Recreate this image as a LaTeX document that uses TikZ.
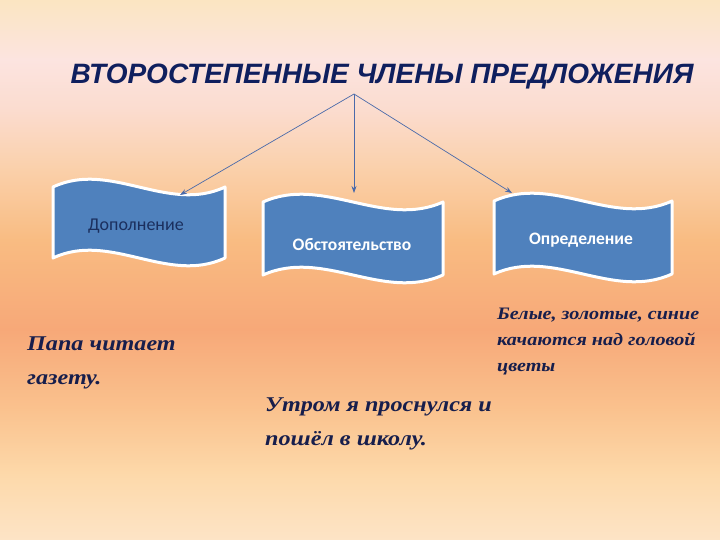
\documentclass[tikz,border=0pt]{standalone}
\usepackage{fontspec}
\setmainfont{Liberation Serif}
\setsansfont{Liberation Sans}
\newfontfamily\flagfont{Carlito}
\newfontfamily\examplefont{Liberation Serif}[FakeStretch=1.15]
\usetikzlibrary{arrows.meta}
\definecolor{navy}{HTML}{0F1F5E}
\definecolor{inkblue}{HTML}{171E4C}
\definecolor{flagblue}{HTML}{4F81BD}
\definecolor{flagtext}{HTML}{1B2F5E}
\definecolor{linkblue}{HTML}{4A6AAA}
\definecolor{bga}{HTML}{FBE5C2}
\definecolor{bgb}{HTML}{FCE4E0}
\definecolor{bgc}{HTML}{FBDCCF}
\definecolor{bgd}{HTML}{FAD0AA}
\definecolor{bge}{HTML}{F9BC82}
\definecolor{bgf}{HTML}{F7A878}
\definecolor{bgg}{HTML}{FAC28E}
\definecolor{bgh}{HTML}{FDD9AA}
\definecolor{bgi}{HTML}{FDE4C6}
\tikzset{
    flag/.style={fill=flagblue, draw=white, line width=3pt, line join=round}, % wavy banner
    link/.style={-{Stealth[length=7pt,width=5pt]}, draw=linkblue, line width=0.7pt},
    title/.style={font=\sffamily\bfseries\itshape\fontsize{28}{30}\selectfont, text=navy},
    flaglabel/.style={font=\flagfont\bfseries\fontsize{17.5}{20}\selectfont, text=white},
    example/.style={font=\examplefont\bfseries\itshape\fontsize{21}{33.5}\selectfont, text=inkblue, align=left, anchor=north west, inner sep=0pt},
}
% banner shape: name, left x, top y, width, bottom y
\newcommand{\waveflag}[5]{%
  \draw[flag] (#2,#3) .. controls ({#2+#4/3},{#3-27}) and ({#2+2*#4/3},{#3+27}) .. ({#2+#4},#3)
    -- ({#2+#4},#5) .. controls ({#2+2*#4/3},{#5+27}) and ({#2+#4/3},{#5-27}) .. (#2,#5) -- cycle;
  \coordinate (#1) at ({#2+#4/2},{(#3+#5)/2});
}
\begin{document}
\begin{tikzpicture}[x=1pt, y=-1pt]
% background
\useasboundingbox (0,0) rectangle (720,540);
\foreach \ya/\ca/\yb/\cb in {0/bga/60/bgb, 59/bgb/110/bgc, 109/bgc/170/bgd, 169/bgd/240/bge,
    239/bge/330/bgf, 329/bgf/410/bgg, 409/bgg/475/bgh, 474/bgh/540/bgi}
  \shade[top color=\ca, bottom color=\cb] (0,\ya) rectangle (720,\yb);

\node[title] (title) at (382,77) {ВТОРОСТЕПЕННЫЕ ЧЛЕНЫ ПРЕДЛОЖЕНИЯ};
\coordinate (hub) at (354,94);

\waveflag{f1}{53}{187}{172}{258}
\waveflag{f2}{263}{202}{180}{275}
\waveflag{f3}{494}{201}{178}{274}

\node[flaglabel, font=\flagfont\fontsize{18}{20}\selectfont, text=flagtext] (dop) at (136,226) {Дополнение};
\node[flaglabel] (obs) at (352,245) {Обстоятельство};
\node[flaglabel] (opr) at (581,240) {Определение};

\coordinate (top1) at (180,195);
\coordinate (top2) at (354,193);
\coordinate (top3) at (512,193);
\draw[link] (hub) -- (top1);
\draw[link] (hub) -- (top2);
\draw[link] (hub) -- (top3);

\node[example] (ex1) at (27,337) {Папа читает\\газету.};
\node[example] (ex2) at (265,398) {Утром я проснулся и\\пошёл в школу.};
\node[example, font=\examplefont\bfseries\itshape\fontsize{17.5}{26}\selectfont] (ex3) at (497,308)
    {Белые, золотые, синие\\качаются над головой\\цветы};
\end{tikzpicture}
\end{document}
